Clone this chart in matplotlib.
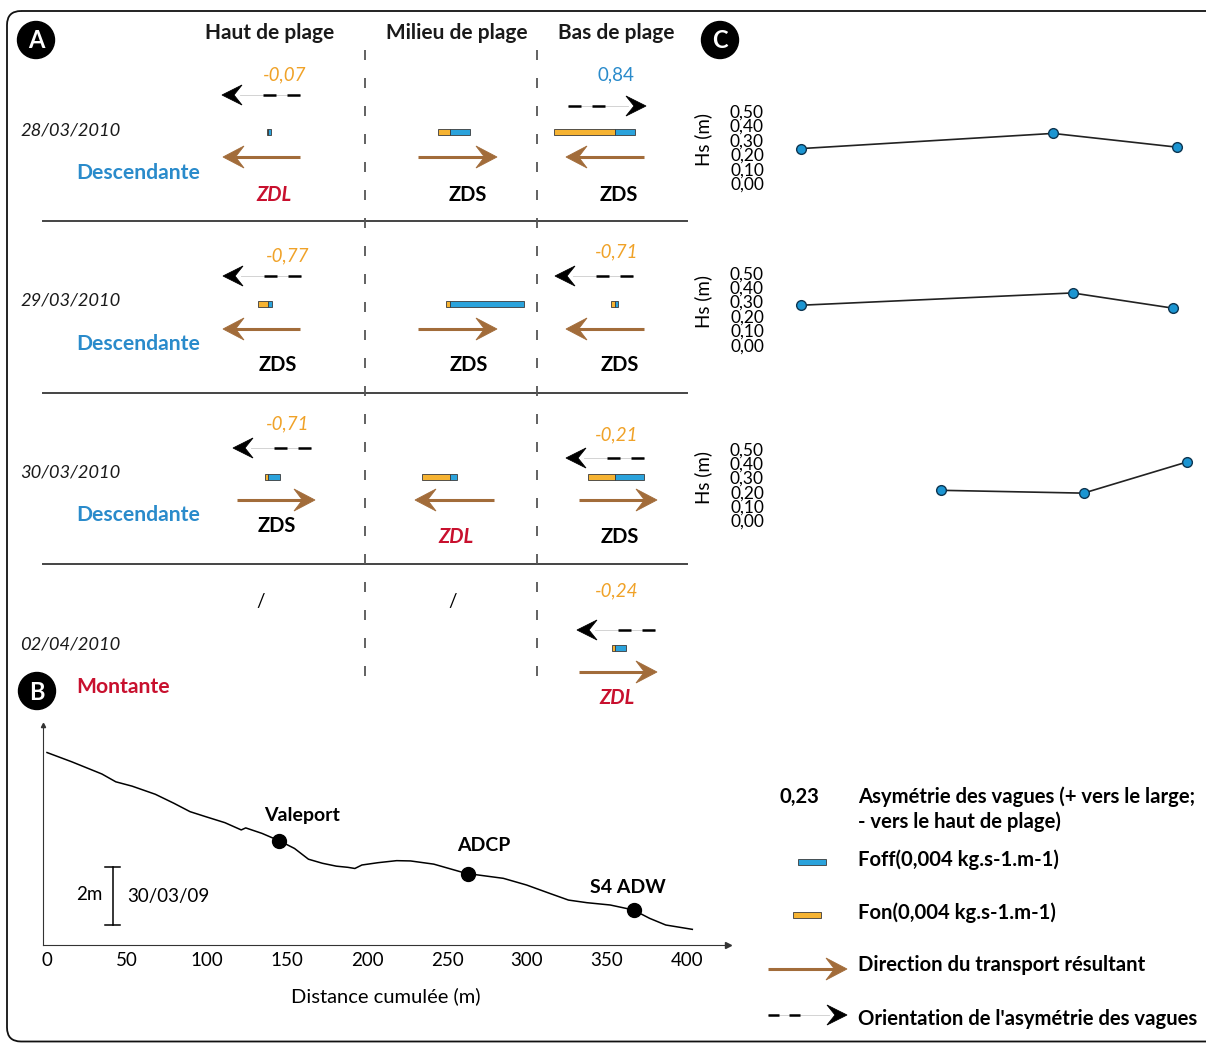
import matplotlib
matplotlib.use("Agg")
import matplotlib.pyplot as plt
from matplotlib.patches import FancyBboxPatch, Circle, Polygon
import numpy as np

plt.rcParams['font.family'] = ['Lato', 'DejaVu Sans']
plt.rcParams['lines.scale_dashes'] = False

# ---------------- data ----------------
zones = ["Haut de plage", "Milieu de plage", "Bas de plage"]
dates = ["28/03/2010", "29/03/2010", "30/03/2010", "02/04/2010"]
tides = ["Descendante", "Descendante", "Descendante", "Montante"]
# wave asymmetry (+ offshore, - onshore); None = no measurement
asym = [[-0.07, None, 0.84],
        [-0.77, None, -0.71],
        [-0.71, None, -0.21],
        [None, None, -0.24]]
# onshore / offshore sediment fluxes (kg.s-1.m-1)
fon = [[0.00015, 0.0017, 0.0087],
       [0.0014, 0.0006, 0.0006],
       [0.0005, 0.0040, 0.0039],
       [None, None, 0.0005]]
foff = [[0.0004, 0.0029, 0.0029],
        [0.0006, 0.0106, 0.0004],
        [0.0017, 0.0010, 0.0041],
        [None, None, 0.0015]]
# resulting transport direction (+1 offshore, -1 onshore, 0 none)
transport = [[-1, 1, -1],
             [-1, 1, -1],
             [1, -1, 1],
             [0, 0, 1]]
zone_type = [["ZDL", "ZDS", "ZDS"],
             ["ZDS", "ZDS", "ZDS"],
             ["ZDS", "ZDL", "ZDS"],
             ["/", "/", "ZDL"]]
legend_flux = 0.004
legend_asym = 0.23

# panel C : significant wave height
hs_pos = [[0.061, 0.654, 0.946],
          [0.061, 0.700, 0.936],
          [0.390, 0.726, 0.969]]
hs = [[0.24, 0.345, 0.25],
      [0.275, 0.36, 0.255],
      [0.21, 0.19, 0.41]]
hs_ticks = [0.0, 0.1, 0.2, 0.3, 0.4, 0.5]

# panel B : beach profile (distance m, elevation m above axis)
profile_x = [0, 15.5, 34.3, 43.0, 53.2, 67.7, 79.3, 89.4, 99.6, 111.2, 121.4, 124.2,
             134.4, 145.4, 154.7, 163.4, 172.1, 180.8, 188.0, 192.4, 196.8, 206.9,
             218.5, 227.2, 241.7, 262.0, 285.2, 299.7, 314.2, 325.9, 337.4, 352.0,
             366.4, 376.6, 386.7, 403.3]
profile_z = [6.64, 6.32, 5.90, 5.63, 5.48, 5.20, 4.89, 4.60, 4.42, 4.22, 3.97, 4.04,
             3.85, 3.59, 3.33, 2.96, 2.82, 2.72, 2.68, 2.64, 2.76, 2.84,
             2.91, 2.90, 2.79, 2.47, 2.30, 2.07, 1.78, 1.55, 1.46, 1.38,
             1.21, 0.92, 0.69, 0.54]
instruments = ["Valeport", "ADCP", "S4 ADW"]
instrument_x = [145, 263, 367]
dist_ticks = [0, 50, 100, 150, 200, 250, 300, 350, 400]
scale_bar_m = 2
profile_date = "30/03/09"

# ---------------- style ----------------
W, H = 1206, 1043
BROWN = '#a26c3a'
BAR_BLUE = '#2ba3dc'
BAR_ORANGE = '#f6b332'
TXT_ORANGE = '#f0a228'
TXT_BLUE = '#2a8bcb'
RED = '#c8102e'
FLUX_PX = 7000.0   # px per kg.s-1.m-1 in panel A

# ---------------- layout (pixels) ----------------
col_x = [268, 450, 615]
bar_y = [132, 304, 477, 648]
date_y = [130, 301, 473, 644]
tide_y = [173, 344, 515, 687]
sep_y = [221, 393, 564]
vline_x = [365, 537]
tr_layout = [[(300, 223, 157), (418, 497, 157), (644, 566, 157)],
             [(300, 223, 329), (418, 497, 329), (644, 566, 329)],
             [(237, 315, 500), (494, 415, 500), (579, 657, 500)],
             [None, None, (579, 657, 672)]]
asym_layout = [[(285, 75, 261, 95), None, (616, 75, 607, 106)],
               [(288, 256, 262, 276), None, (617, 252, 594, 276)],
               [(288, 424, 272, 448), None, (617, 435, 605, 458)],
               [None, None, (617, 591, 616, 630)]]
zone_layout = [[(274, 195), (468, 195), (619, 195)],
               [(278, 365), (469, 365), (620, 365)],
               [(277, 526), (456, 537), (620, 537)],
               [(261, 602), (453, 602), (617, 698)]]

fig = plt.figure(figsize=(W / 100, H / 100), dpi=100)
ax = fig.add_axes([0, 0, 1, 1])
ax.set_xlim(0, W)
ax.set_ylim(H, 0)
ax.axis('off')


def px_axes(l, t, r, b):
    return fig.add_axes([l / W, 1 - b / H, (r - l) / W, (b - t) / H])


def head(tip_x, y, d, L, Wd, color):
    pts = [(tip_x, y), (tip_x - d * L, y - Wd / 2), (tip_x - d * 0.6 * L, y),
           (tip_x - d * L, y + Wd / 2)]
    ax.add_patch(Polygon(pts, closed=True, fc=color, ec=color, lw=0.6, zorder=4))


def brown_arrow(x0, x1, y):
    d = np.sign(x1 - x0)
    ax.plot([x0, x1 - d * 12], [y, y], color=BROWN, lw=2.2, solid_capstyle='butt', zorder=3)
    head(x1, y, d, 21, 22, BROWN)


def dashed_arrow(x0, x1, y, dash=13, gap=11, ndash=2):
    d = np.sign(x1 - x0)
    dl = ndash * dash + (ndash - 1) * gap
    ax.plot([x0, x1 - d * 18], [y, y], color='#cccccc', lw=0.6, zorder=2)
    ax.plot([x0, x0 + d * dl], [y, y], color='k', lw=1.8,
            linestyle=(0, (dash * 0.72, gap * 0.72)), dash_capstyle='butt', zorder=3)
    head(x1, y, d, 20, 20, 'k')


def fmt(v, nd=2):
    return f"{v:.{nd}f}".replace('.', ',')


# border (right side runs off the picture)
ax.add_patch(FancyBboxPatch((7, 11), W + 120, H - 12.5, boxstyle="round,pad=0,rounding_size=14",
                            fc='none', ec='#111111', lw=1.3, zorder=1))

# panel letters
for letter, (cx, cy) in zip(["A", "B", "C"], [(36, 40), (37, 691), (720, 40)]):
    ax.add_patch(Circle((cx, cy), 18.5, fc='black', ec='black', zorder=5))
    ax.text(cx, cy + 1, letter, color='white', fontsize=17, fontweight='bold',
            ha='center', va='center', zorder=6)

# headers
for j, z in enumerate(zones):
    ax.text([270, 457, 616][j], 33, z, fontsize=15, fontweight='bold', ha='center',
            va='center', color='#1a1a1a')

# separators
for y in sep_y:
    ax.plot([43, 687], [y, y], color='#444444', lw=1.4, zorder=1)
for x in vline_x:
    ax.plot([x, x], [50, 684], color='#555555', lw=1.3,
            linestyle=(0, (10 * 0.72, 18 * 0.72)), zorder=1)

# rows
for i in range(4):
    ax.text(20, date_y[i], dates[i], fontsize=13.2, fontstyle='italic', ha='left',
            va='center', color='#1a1a1a')
    ax.text(76, tide_y[i], tides[i], fontsize=15.2, fontweight='bold', ha='left',
            va='center', color=TXT_BLUE if tides[i] == "Descendante" else RED)
    for j in range(3):
        # fluxes
        if fon[i][j] is not None:
            ax.barh(bar_y[i], -fon[i][j] * FLUX_PX, left=col_x[j], height=6,
                    color=BAR_ORANGE, edgecolor='#3a3a3a', lw=0.6, zorder=3)
            ax.barh(bar_y[i], foff[i][j] * FLUX_PX, left=col_x[j], height=6,
                    color=BAR_BLUE, edgecolor='#3a3a3a', lw=0.6, zorder=3)
        # transport
        if transport[i][j] != 0:
            x0, x1, y = tr_layout[i][j]
            brown_arrow(x0, x1, y)
        # asymmetry
        if asym[i][j] is not None:
            tx, ty, acx, ay = asym_layout[i][j]
            v = asym[i][j]
            ax.text(tx, ty, fmt(v), fontsize=13.5, ha='center', va='center',
                    color=TXT_BLUE if v > 0 else TXT_ORANGE,
                    fontstyle='normal' if v > 0 else 'italic')
            d = 1 if v > 0 else -1
            dashed_arrow(acx - d * 39, acx + d * 39, ay)
        # zone label
        zt = zone_type[i][j]
        zx, zy = zone_layout[i][j]
        if zt == "ZDL":
            ax.text(zx, zy, zt, fontsize=14.5, fontweight='bold', fontstyle='italic',
                    color=RED, ha='center', va='center')
        elif zt == "ZDS":
            ax.text(zx, zy, zt, fontsize=14.5, fontweight='bold', color='black',
                    ha='center', va='center')
        else:
            ax.text(zx, zy, zt, fontsize=13.5, color='black', ha='center', va='center')

# ---------------- panel C ----------------
hs_boxes = [(775, 111, 1200, 183.3), (775, 272.7, 1200, 345), (775, 449.3, 1200, 520)]
for k, box in enumerate(hs_boxes):
    a = px_axes(*box)
    a.patch.set_visible(False)
    a.plot(hs_pos[k], hs[k], color='#222222', lw=1.2, marker='o', ms=7,
           mfc='#1b95d2', mec='#0d3550', mew=1.0, clip_on=False)
    a.set_xlim(0, 1)
    a.set_ylim(0, 0.5)
    for s in a.spines.values():
        s.set_visible(False)
    a.set_xticks([])
    a.set_yticks(hs_ticks)
    a.set_yticklabels([fmt(t) for t in hs_ticks])
    a.tick_params(axis='y', length=0, pad=8, labelsize=12.5)
    a.set_ylabel("Hs (m)", fontsize=13.5)
    a.yaxis.set_label_coords(-0.148, 0.6)

# ---------------- panel B ----------------
b = px_axes(43, 725, 728, 945)
b.patch.set_visible(False)
b.plot(profile_x, profile_z, color='black', lw=1.1)
b.set_xlim(-2.5, 425.6)
b.set_ylim(0, 7.59)
b.spines['top'].set_visible(False)
b.spines['right'].set_visible(False)
for s in ['left', 'bottom']:
    b.spines[s].set_linewidth(0.8)
    b.spines[s].set_color('#333333')
b.plot([1], [0], marker='>', color='#333333', ms=4, transform=b.transAxes, clip_on=False)
b.plot([0], [1], marker='^', color='#333333', ms=3, transform=b.transAxes, clip_on=False)
b.set_xticks(dist_ticks)
b.set_xticklabels([str(t) for t in dist_ticks])
b.set_yticks([])
b.tick_params(axis='x', length=0, pad=5, labelsize=13.5)
b.set_xlabel("Distance cumulée (m)", fontsize=14.5, labelpad=13)
inst_z = np.interp(instrument_x, profile_x, profile_z)
b.plot(instrument_x, inst_z, 'o', color='black', ms=10, zorder=4)
for name, x, z, off in zip(instruments, instrument_x, inst_z, [(23, 25), (16, 28), (-6, 23)]):
    b.annotate(name, (x, z), xytext=off, textcoords='offset pixels', ha='center',
               va='center', fontsize=14, fontweight='bold')
# vertical scale bar
sb_x, sb_y0 = 41, 0.69
b.plot([sb_x, sb_x], [sb_y0, sb_y0 + scale_bar_m], color='black', lw=1.1)
for yy in [sb_y0, sb_y0 + scale_bar_m]:
    b.plot([sb_x - 4.5, sb_x + 4.5], [yy, yy], color='black', lw=1.1)
b.annotate(f"{scale_bar_m}m", (sb_x, sb_y0 + scale_bar_m / 2), xytext=(-10, 2),
           textcoords='offset pixels', ha='right', va='center', fontsize=13.5)
b.annotate(profile_date, (sb_x, sb_y0 + scale_bar_m / 2), xytext=(15, 0),
           textcoords='offset pixels', ha='left', va='center', fontsize=13.5)

# ---------------- legend ----------------
LF = 14.6
ax.text(780, 797, fmt(legend_asym), fontsize=LF, fontweight='bold', ha='left', va='center')
ax.text(858, 797, "Asymétrie des vagues (+ vers le large;", fontsize=LF, fontweight='bold',
        ha='left', va='center')
ax.text(858, 822, "- vers le haut de plage)", fontsize=LF, fontweight='bold',
        ha='left', va='center')
ax.barh(862, legend_flux * FLUX_PX, left=798, height=6, color=BAR_BLUE,
        edgecolor='#3a3a3a', lw=0.6)
ax.text(858, 860, "Foff(0,004 kg.s-1.m-1)", fontsize=LF, fontweight='bold', ha='left', va='center')
ax.barh(915, legend_flux * FLUX_PX, left=793, height=6, color=BAR_ORANGE,
        edgecolor='#3a3a3a', lw=0.6)
ax.text(858, 913, "Fon(0,004 kg.s-1.m-1)", fontsize=LF, fontweight='bold', ha='left', va='center')
brown_arrow(768, 847, 969)
ax.text(858, 965, "Direction du transport résultant", fontsize=LF, fontweight='bold',
        ha='left', va='center')
dashed_arrow(768, 847, 1015, dash=11, gap=10)
ax.text(858, 1019, "Orientation de l'asymétrie des vagues", fontsize=LF, fontweight='bold',
        ha='left', va='center')

fig.savefig("out.png", dpi=100)
